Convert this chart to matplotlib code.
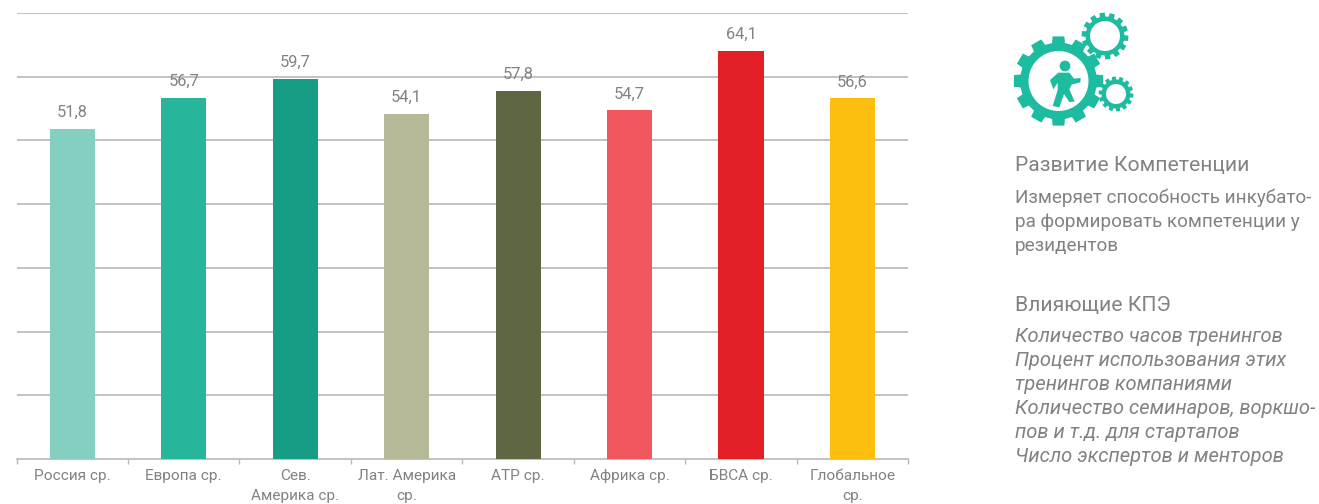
import numpy as np
import matplotlib
matplotlib.use("Agg")
import matplotlib.pyplot as plt
from matplotlib.patches import Circle, Polygon, PathPatch
from matplotlib.path import Path

categories = ["Россия ср.", "Европа ср.", "Сев.\nАмерика ср.", "Лат. Америка\nср.",
              "АТР ср.", "Африка ср.", "БВСА ср.", "Глобальное\nср."]
values = [51.8, 56.7, 59.7, 54.1, 57.8, 54.7, 64.1, 56.6]
value_labels = ["51,8", "56,7", "59,7", "54,1", "57,8", "54,7", "64,1", "56,6"]
bar_colors = ["#85CFC0", "#27B59B", "#179C86", "#B5B998", "#5F6642",
              "#F2575F", "#E21F26", "#FDBF0F"]
y_grid = [10, 20, 30, 40, 50, 60, 70]

heading_1 = "Развитие Компетенции"
body_lines = ["Измеряет способность инкубато-", "ра формировать компетенции у", "резидентов"]
heading_2 = "Влияющие КПЭ"
italic_lines = ["Количество часов тренингов", "Процент использования этих",
                "тренингов компаниями", "Количество семинаров, воркшо-",
                "пов и т.д. для стартапов", "Число экспертов и менторов"]

FONT = "Roboto"
TXT = "#808283"
GRID = "#b8b8b8"
TEAL = "#1DBBA0"
W, H = 1319, 504

plt.rcParams["font.family"] = [FONT, "DejaVu Sans"]
fig = plt.figure(figsize=(W / 100, H / 100), dpi=100, facecolor="white")

ax = fig.add_axes([16.6 / W, 1 - 459 / H, (908.2 - 16.6) / W, (459 - 13) / H])
x = np.arange(len(values))
ax.set_xlim(-0.5, len(values) - 0.5)
ax.set_ylim(0, 70)
ax.set_axisbelow(True)
ax.bar(x, values, width=0.405, color=bar_colors, zorder=3)
for v in y_grid:
    ax.axhline(v, color=GRID, lw=1.2, zorder=1)
for s in ("top", "left", "right"):
    ax.spines[s].set_visible(False)
ax.spines["bottom"].set_color(GRID)
ax.spines["bottom"].set_linewidth(1.2)
ax.set_yticks([])
ax.set_xticks(np.arange(len(values) + 1) - 0.5)
ax.set_xticklabels([])
ax.tick_params(axis="x", length=3.5, width=1, color=GRID)
for xi, c in zip(x, categories):
    ax.annotate(c, (xi, 0), xytext=(0, -7.5), textcoords="offset points", ha="center", va="top",
                fontsize=11.1, color=TXT, linespacing=1.55, annotation_clip=False)
for xi, v, lab in zip(x, values, value_labels):
    ax.annotate(lab, (xi, v), xytext=(0, 6.5), textcoords="offset points", ha="center", va="bottom",
                fontsize=11.8, color=TXT, zorder=5)

# Pixel-space overlay for the icon and side text
ov = fig.add_axes([0, 0, 1, 1], facecolor="none")
ov.set_xlim(0, W)
ov.set_ylim(H, 0)
ov.axis("off")


def gear(cx, cy, r_out, r_root, r_in, teeth, phase=0.0):
    pts = []
    step = 2 * np.pi / teeth
    for i in range(teeth):
        a = phase + i * step
        for da, r in [(-0.32, r_root), (-0.25, r_out), (0.25, r_out), (0.32, r_root)]:
            t = a + da * step
            pts.append((cx + r * np.cos(t), cy + r * np.sin(t)))
    outer = np.array(pts)
    th = np.linspace(0, 2 * np.pi, 90)
    inner = np.c_[cx + r_in * np.cos(th), cy - r_in * np.sin(th)]
    verts = np.vstack([outer, outer[:1], inner])
    codes = [Path.MOVETO] + [Path.LINETO] * (len(outer) - 1) + [Path.CLOSEPOLY] + \
            [Path.MOVETO] + [Path.LINETO] * (len(inner) - 1)
    ov.add_patch(PathPatch(Path(verts, codes), fc=TEAL, ec="none"))


gear(1058.5, 81, 45, 38.5, 30, 12, phase=-np.pi / 2)
gear(1105, 36, 23.5, 19.5, 15, 14, phase=0.1)
gear(1116, 94, 17.5, 14.5, 10, 14, phase=0.1)
ov.add_patch(Circle((1065, 66), 5.4, fc=TEAL, ec="none"))
zoom_pts = [(180, 240), (205, 218), (238, 218), (252, 236), (272, 234), (271, 247), (245, 254), (238, 268),
            (254, 305), (238, 306), (222, 282), (208, 322), (188, 318), (203, 270), (203, 248), (190, 268)]
ov.add_patch(Polygon([(990 + a / 3, b / 3) for a, b in zoom_pts], closed=True, fc=TEAL, ec="none"))

ov.text(1015, 165, heading_1, fontsize=15.2, color=TXT, va="center")
for y, line in zip([198, 222, 246], body_lines):
    ov.text(1015, y, line, fontsize=13.6, color=TXT, va="center")
ov.text(1015, 305, heading_2, fontsize=15.2, color=TXT, va="center")
for y, line in zip([336, 360, 384, 408, 432, 456], italic_lines):
    ov.text(1015, y, line, fontsize=14.5, color=TXT, va="center", style="italic")

fig.savefig("out.png", dpi=100, facecolor="white")
